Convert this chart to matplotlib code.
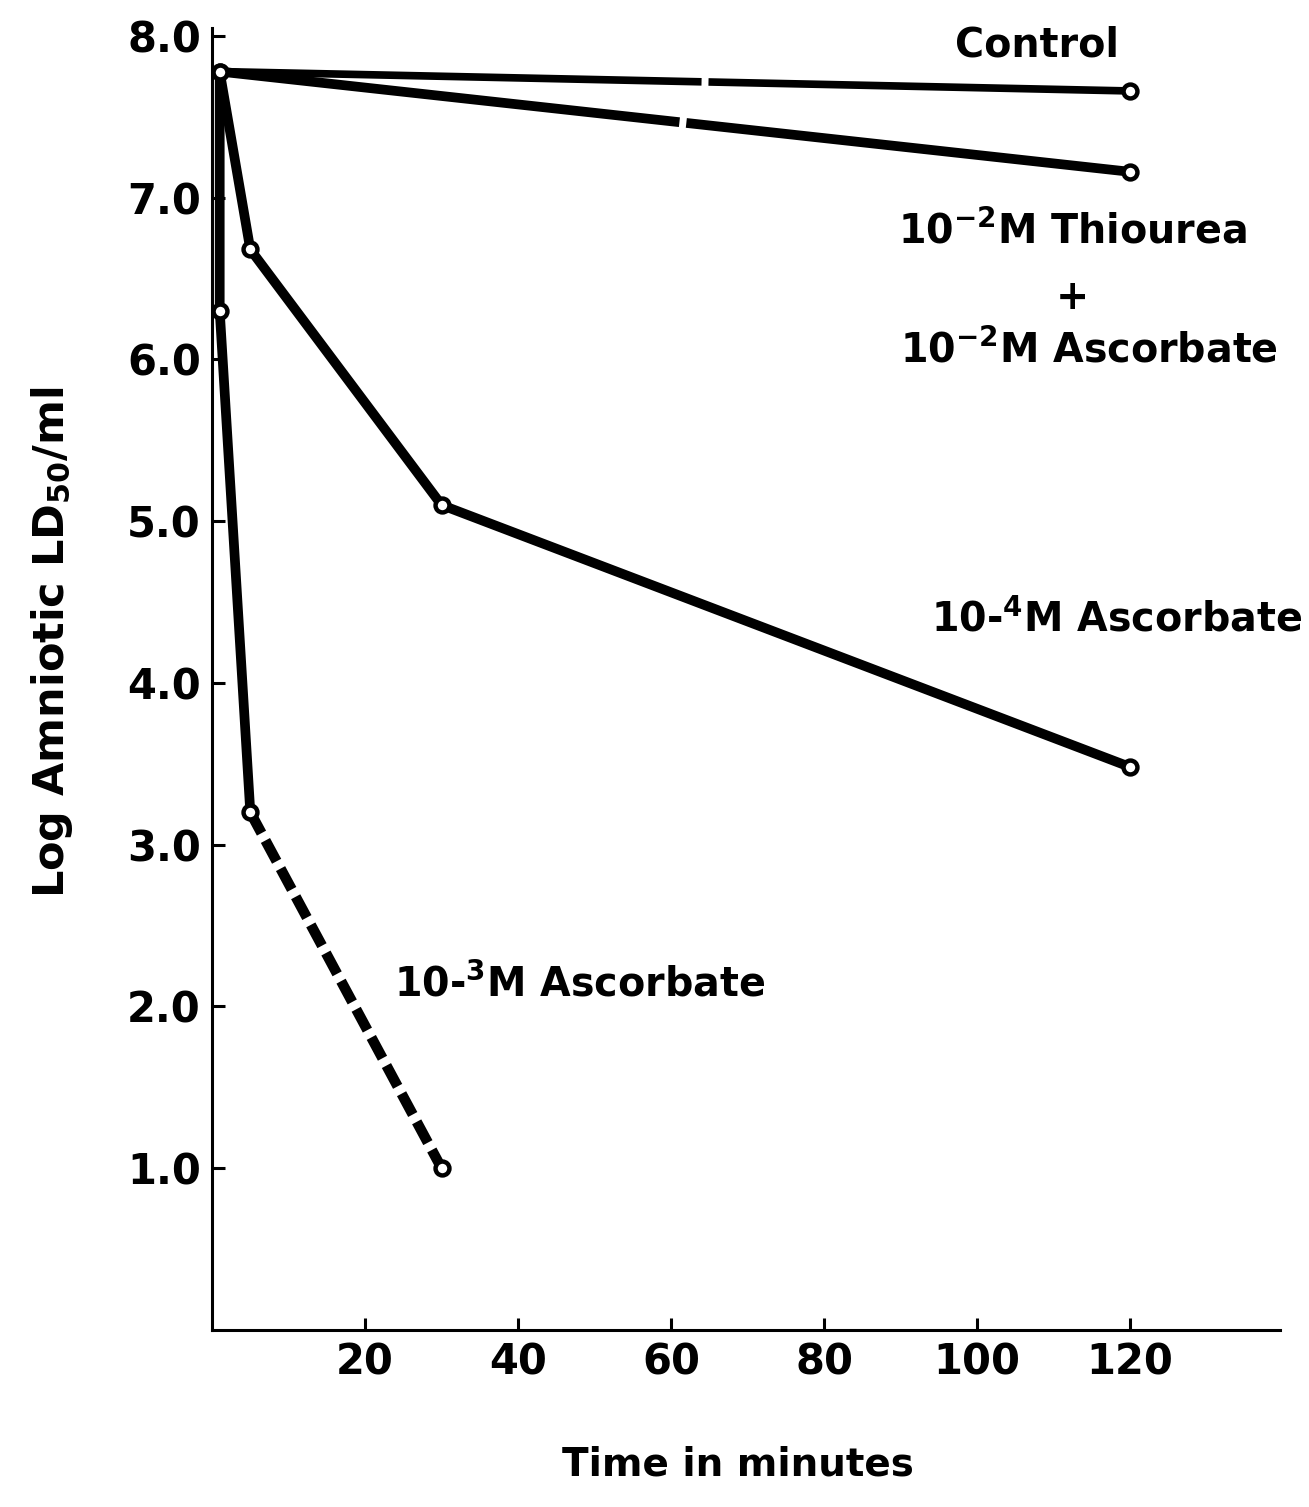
import matplotlib
matplotlib.use("Agg")
import matplotlib.pyplot as plt

plt.rcParams['font.family'] = ['DejaVu Sans']
plt.rcParams['font.weight'] = 'bold'
plt.rcParams['mathtext.fontset'] = 'dejavusans'
plt.rcParams['mathtext.default'] = 'bf'
plt.rcParams['lines.scale_dashes'] = False

# Data (time in minutes, log amniotic LD50/ml)
control_t = [1, 120]
control_y = [7.78, 7.66]

thiourea_t = [1, 120]
thiourea_y = [7.78, 7.16]

asc4_t = [1, 5, 30, 120]
asc4_y = [7.78, 6.68, 5.10, 3.48]

asc3_solid_t = [1, 1, 5]
asc3_solid_y = [7.78, 6.30, 3.20]
asc3_dash_t = [5, 30]
asc3_dash_y = [3.20, 1.00]

x_ticks = [20, 40, 60, 80, 100, 120]
y_ticks = [1.0, 2.0, 3.0, 4.0, 5.0, 6.0, 7.0, 8.0]

fig = plt.figure(figsize=(13.09, 15.07), dpi=100)
ax = fig.add_axes([0.162, 0.1175, 0.816, 0.864])

LW = 7
mk = dict(marker='o', markersize=10, markerfacecolor='white',
          markeredgecolor='black', markeredgewidth=3.2)

# Control (with small break in the line as in the scan)
ax.plot(control_t, control_y, color='black', lw=5.5,
        linestyle=(0, (347, 5, 1000, 1)), dash_capstyle='butt')
ax.plot(control_t[1:], control_y[1:], linestyle='none', **mk)

ax.plot(thiourea_t, thiourea_y, color='black', lw=LW,
        linestyle=(0, (333, 5, 1000, 1)), dash_capstyle='butt')
ax.plot(thiourea_t[1:], thiourea_y[1:], linestyle='none', **mk)

ax.plot(asc4_t, asc4_y, color='black', lw=LW, solid_joinstyle='round')
ax.plot(asc4_t, asc4_y, linestyle='none', **mk)

ax.plot(asc3_solid_t, asc3_solid_y, color='black', lw=LW, solid_joinstyle='round')
ax.plot(asc3_dash_t, asc3_dash_y, color='black', lw=LW + 0.5,
        linestyle=(0, (17, 6)), dash_capstyle='butt')
ax.plot(asc3_solid_t[1:], asc3_solid_y[1:], linestyle='none', **mk)
ax.plot(asc3_dash_t[1:], asc3_dash_y[1:], linestyle='none', **mk)

# Common start point
ax.plot([control_t[0]], [control_y[0]], linestyle='none', **mk)

ax.set_xlim(0, 139.6)
ax.set_ylim(0, 8.05)
ax.spines['top'].set_visible(False)
ax.spines['right'].set_visible(False)
ax.spines['left'].set_linewidth(2.2)
ax.spines['bottom'].set_linewidth(2.2)

ax.set_xticks(x_ticks)
ax.set_xticklabels([str(v) for v in x_ticks])
ax.set_yticks(y_ticks)
ax.set_yticklabels([f"{v:.1f}" for v in y_ticks])
ax.tick_params(axis='both', direction='in', length=9, width=2.2,
               labelsize=30, pad=8)
for lab in ax.get_xticklabels() + ax.get_yticklabels():
    lab.set_fontweight('bold')

fig.text(0.564, 1 - 1465 / 1507, "Time in minutes", fontsize=28,
         fontweight='bold', ha='center', va='center')
ax.set_ylabel("Log Amniotic LD$_{50}$/ml", fontsize=31, fontweight='bold')
ax.yaxis.set_label_coords(-0.128, 0.528)

tkw = dict(fontsize=28.5, fontweight='bold', color='black')
ax.text(107.8, 7.94, "Control", ha='center', va='center', **tkw)
ax.text(112.4, 6.79, "10$^{-2}$M Thiourea", ha='center', va='center', **tkw)
ax.text(112.4, 6.38, "+", ha='center', va='center', **tkw)
ax.text(114.6, 6.05, "10$^{-2}$M Ascorbate", ha='center', va='center', **tkw)
ax.text(118.2, 4.39, "10-$^{4}$M Ascorbate", ha='center', va='center', **tkw)
ax.text(48.0, 2.13, "10-$^{3}$M Ascorbate", ha='center', va='center', **tkw)

fig.savefig("out.png", dpi=100)
